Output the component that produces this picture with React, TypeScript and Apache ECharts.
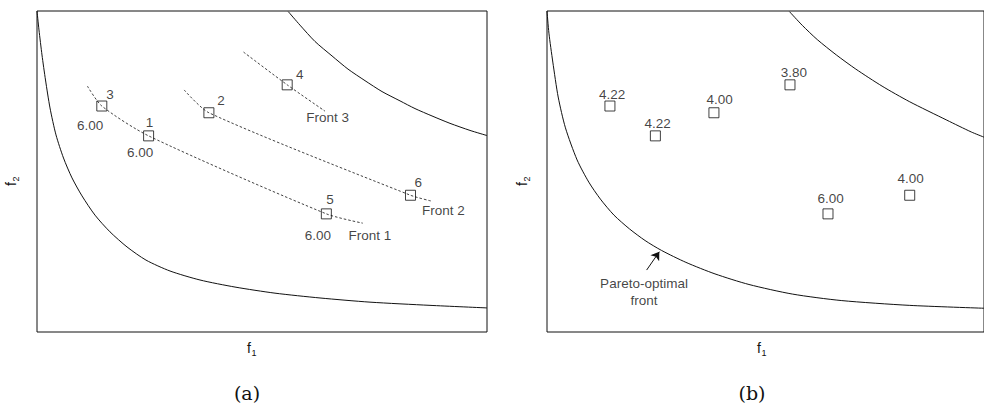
import React, { useEffect, useRef } from "react";
import * as echarts from "echarts";

// ---- data (axis units: f1 0..10, f2 0..10) ----
// panel (a) curves
const paretoAX = [0.0, 0.044, 0.111, 0.189, 0.289, 0.422, 0.589, 0.778, 1.0, 1.289, 1.622, 2.0, 2.422, 2.956, 3.622, 4.4, 5.289, 6.289, 7.4, 8.733, 10.0];
const paretoAY = [10.0, 9.41, 8.63, 7.85, 6.98, 6.14, 5.42, 4.8, 4.24, 3.64, 3.12, 2.65, 2.24, 1.9, 1.62, 1.4, 1.21, 1.06, 0.93, 0.83, 0.75];
const boundAX = [5.584, 5.844, 6.178, 6.556, 6.911, 7.289, 7.667, 8.067, 8.4, 8.778, 9.178, 9.622, 10.0];
const boundAY = [9.98, 9.56, 9.05, 8.6, 8.19, 7.83, 7.49, 7.2, 6.96, 6.73, 6.5, 6.28, 6.12];

// panel (b) curves
const paretoBX = [0.0, 0.044, 0.133, 0.256, 0.422, 0.689, 0.956, 1.222, 1.533, 1.889, 2.244, 2.622, 3.178, 3.844, 4.622, 5.622, 6.733, 8.289, 10.0];
const paretoBY = [10.0, 9.31, 8.41, 7.32, 6.36, 5.36, 4.67, 4.14, 3.64, 3.21, 2.85, 2.54, 2.17, 1.81, 1.48, 1.18, 0.98, 0.83, 0.74];
const boundBX = [5.549, 5.844, 6.184, 6.622, 7.067, 7.667, 8.289, 9.149, 9.711, 10.0];
const boundBY = [9.98, 9.55, 9.11, 8.63, 8.19, 7.66, 7.18, 6.6, 6.23, 6.07];

const pointIds = ["1", "2", "3", "4", "5", "6"];
const pointX = [2.48, 3.82, 1.44, 5.56, 6.43, 8.3];
const pointY = [6.11, 6.83, 7.04, 7.7, 3.68, 4.26];
const crowding = ["4.22", "4.00", "4.22", "3.80", "6.00", "4.00"];

const front1X = [1.12, 1.44, 2.48, 6.43, 7.24];
const front1Y = [7.66, 7.04, 6.11, 3.68, 3.39];
const front2X = [3.27, 3.82, 8.3, 8.79];
const front2Y = [7.54, 6.83, 4.26, 4.07];
const front3X = [4.59, 5.56, 6.4];
const front3Y = [8.72, 7.7, 6.88];

// annotations of panel (a)
const noteAText = ["3", "6.00", "1", "6.00", "2", "4", "Front 3", "5", "6.00", "Front 1", "6", "Front 2"];
const noteAX = [1.62, 1.18, 2.5, 2.29, 4.09, 5.84, 6.46, 6.51, 6.24, 7.4, 8.47, 9.03];
const noteAY = [7.41, 6.43, 6.53, 5.6, 7.21, 8.01, 6.68, 4.12, 3.0, 3.02, 4.65, 3.78];

// crowding-distance label anchors of panel (b), in point order
const crowdLabelX = [2.53, 3.95, 1.49, 5.65, 6.49, 8.32];
const crowdLabelY = [6.5, 7.25, 7.4, 8.09, 4.17, 4.79];

const paretoNoteText = ["Pareto-optimal", "front"];
const paretoNoteX = [2.22, 2.22];
const paretoNoteY = [1.52, 0.97];
const arrowFrom = [2.28, 1.93];
const arrowTo = [2.57, 2.5];

const FONT = "'Liberation Sans', Arial, sans-serif";
const INK = "#111";

const zip = (xs: number[], ys: number[]) => xs.map((x, i) => [x, ys[i]]);

function curve(idx: number, xs: number[], ys: number[], dashed = false) {
  return {
    type: "line",
    xAxisIndex: idx,
    yAxisIndex: idx,
    data: zip(xs, ys),
    smooth: 0.25,
    showSymbol: false,
    symbol: "none",
    silent: true,
    lineStyle: dashed
      ? { color: INK, width: 0.8, type: [2.5, 2] }
      : { color: INK, width: 1 },
    z: 2,
  };
}

function notes(idx: number, texts: string[], xs: number[], ys: number[]) {
  return {
    type: "scatter",
    xAxisIndex: idx,
    yAxisIndex: idx,
    symbol: "circle",
    symbolSize: 0.1,
    silent: true,
    itemStyle: { color: "rgba(0,0,0,0)" },
    data: texts.map((t, i) => ({ name: t, value: [xs[i], ys[i]] })),
    label: {
      show: true,
      position: "inside",
      formatter: (p: any) => p.name,
      color: INK,
      fontFamily: FONT,
      fontSize: 13.5,
    },
    z: 5,
  };
}

function squares(idx: number) {
  return {
    type: "scatter",
    xAxisIndex: idx,
    yAxisIndex: idx,
    symbol: "rect",
    symbolSize: 10,
    silent: true,
    data: pointIds.map((id, i) => ({ name: id, value: [pointX[i], pointY[i]] })),
    itemStyle: { color: "rgba(0,0,0,0)", borderColor: INK, borderWidth: 1 },
    z: 4,
  };
}

const axisBase = {
  min: 0,
  max: 10,
  axisLine: { show: false },
  axisTick: { show: false },
  axisLabel: { show: false },
  splitLine: { show: false },
};

function buildOption() {
  const series: any[] = [];
  // panel (a)
  series.push(curve(0, paretoAX, paretoAY));
  series.push(curve(0, boundAX, boundAY));
  series.push(curve(0, front1X, front1Y, true));
  series.push(curve(0, front2X, front2Y, true));
  series.push(curve(0, front3X, front3Y, true));
  series.push(squares(0));
  series.push(notes(0, noteAText, noteAX, noteAY));
  // panel (b)
  series.push(curve(1, paretoBX, paretoBY));
  series.push(curve(1, boundBX, boundBY));
  series.push(squares(1));
  series.push(notes(1, crowding, crowdLabelX, crowdLabelY));
  series.push(notes(1, paretoNoteText, paretoNoteX, paretoNoteY));
  series.push({
    type: "lines",
    coordinateSystem: "cartesian2d",
    xAxisIndex: 1,
    yAxisIndex: 1,
    silent: true,
    symbol: ["none", "arrow"],
    symbolSize: 8,
    lineStyle: { color: INK, width: 1, opacity: 1 },
    data: [{ coords: [arrowFrom, arrowTo] }],
    z: 5,
  });

  const sub = (x: number, y: number, main: string, s: string, rotated: boolean) => {
    const children = [
      {
        type: "text",
        x: 0,
        y: 0,
        style: { text: main, fill: INK, font: `14px ${FONT}`, align: "center", verticalAlign: "middle" },
      },
      {
        type: "text",
        x: 5,
        y: 5,
        style: { text: s, fill: INK, font: `9px ${FONT}`, align: "center", verticalAlign: "middle" },
      },
    ];
    return { type: "group", x, y, rotation: rotated ? Math.PI / 2 : 0, children };
  };

  const caption = (x: number, text: string) => ({
    type: "text",
    x,
    y: 393,
    style: { text, fill: INK, font: `19px 'DejaVu Serif', 'Liberation Serif', serif`, align: "center", verticalAlign: "middle" },
  });

  return {
    animation: false,
    backgroundColor: "#fff",
    grid: [
      { left: 37, top: 11, width: 450, height: 321, show: true, borderColor: INK, borderWidth: 1, backgroundColor: "rgba(0,0,0,0)" },
      { left: 547, top: 11, width: 450, height: 321, show: true, borderColor: INK, borderWidth: 1, backgroundColor: "rgba(0,0,0,0)" },
    ],
    xAxis: [
      { ...axisBase, type: "value", gridIndex: 0 },
      { ...axisBase, type: "value", gridIndex: 1 },
    ],
    yAxis: [
      { ...axisBase, type: "value", gridIndex: 0 },
      { ...axisBase, type: "value", gridIndex: 1 },
    ],
    series,
    graphic: [
      sub(249, 348, "f", "1", false),
      sub(759, 348, "f", "1", false),
      sub(11, 184, "f", "2", true),
      sub(522, 184, "f", "2", true),
      caption(247, "(a)"),
      caption(752, "(b)"),
    ],
  };
}

export default function App() {
  const ref = useRef<HTMLDivElement>(null);
  useEffect(() => {
    if (!ref.current) return;
    const chart = echarts.init(ref.current, null, { renderer: "svg", width: 984, height: 403 });
    chart.setOption(buildOption() as any);
    return () => chart.dispose();
  }, []);
  return (
    <div
      ref={ref}
      style={{ position: "fixed", left: 0, top: 0, width: 984, height: 403, background: "#fff" }}
    />
  );
}
